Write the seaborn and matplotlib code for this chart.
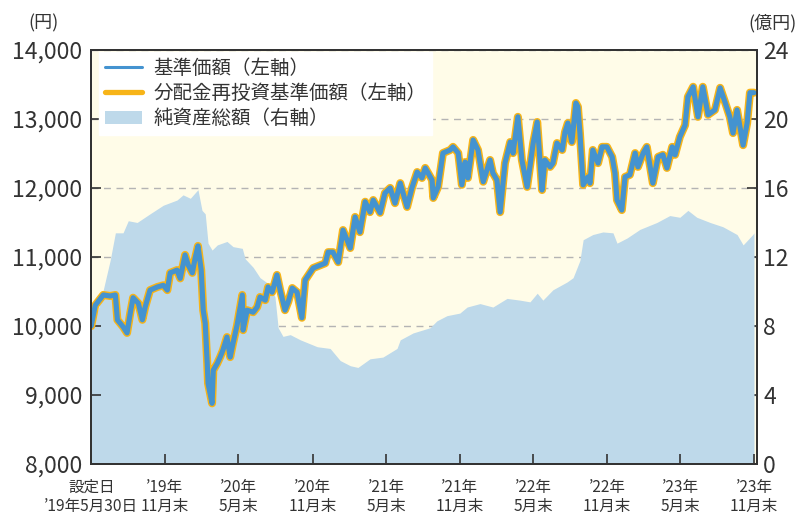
import pandas as pd
import matplotlib
matplotlib.use("Agg")
import matplotlib.pyplot as plt
from matplotlib.lines import Line2D
from matplotlib.patches import Patch
from matplotlib.ticker import FuncFormatter
import seaborn as sns

# ---------------- data ----------------
LAUNCH = "2019-05-30"

# days since launch / NAV (基準価額, yen)
nav_days = [0, 10, 30, 47, 60, 65, 79, 89, 97, 104,
            117, 127, 134, 146, 164, 179, 189, 196, 213, 221,
            233, 241, 251, 258, 265, 273, 278, 283, 288, 290,
            300, 303, 313, 320, 327, 337, 345, 352, 362, 375,
            377, 387, 402, 412, 419, 432, 439, 449, 461, 469,
            481, 489, 499, 511, 523, 531, 551, 568, 581, 588,
            600, 613, 625, 643, 655, 667, 680, 692, 700, 717,
            729, 742, 754, 767, 784, 796, 809, 821, 829, 846,
            849, 861, 873, 891, 898, 911, 920, 928, 935, 948,
            960, 973, 990, 997, 1007, 1015, 1027, 1040, 1047, 1059,
            1069, 1082, 1097, 1107, 1119, 1126, 1139, 1146, 1156, 1169,
            1176, 1183, 1193, 1203, 1208, 1213, 1221, 1233, 1238, 1245,
            1258, 1268, 1280, 1293, 1300, 1305, 1317, 1325, 1337, 1350,
            1357, 1370, 1379, 1394, 1407, 1419, 1429, 1442, 1449, 1461,
            1474, 1481, 1494, 1506, 1518, 1531, 1548, 1561, 1573, 1585,
            1593, 1603, 1618, 1628, 1635, 1645]
nav_values = [10000, 10300, 10450, 10435, 10450, 10090, 9990, 9900, 10190, 10410,
              10330, 10090, 10275, 10520, 10565, 10590, 10520, 10770, 10810, 10690,
              11030, 10880, 10770, 10985, 11160, 10810, 10230, 10040, 9460, 9170,
              8880, 9360, 9460, 9550, 9650, 9840, 9550, 9750, 10010, 10450,
              9940, 10230, 10200, 10275, 10420, 10375, 10565, 10490, 10740, 10520,
              10230, 10350, 10550, 10490, 10120, 10665, 10840, 10880, 10910, 11070,
              11070, 10925, 11390, 11130, 11580, 11360, 11800, 11650, 11825, 11640,
              11925, 12000, 11780, 12070, 11725, 12000, 12230, 12145, 12290, 12115,
              11855, 12015, 12505, 12550, 12595, 12505, 12045, 12375, 12145, 12695,
              12550, 12090, 12405, 12215, 12115, 11650, 12360, 12665, 12505, 13030,
              12405, 12015, 12650, 12955, 11970, 12405, 12305, 12360, 12650, 12550,
              12810, 12940, 12665, 13230, 13175, 12795, 12045, 12160, 12070, 12550,
              12360, 12595, 12595, 12450, 12215, 11825, 11680, 12160, 12190, 12505,
              12305, 12505, 12595, 12070, 12450, 12480, 12290, 12595, 12480, 12740,
              12910, 13320, 13465, 13030, 13465, 13060, 13130, 13450, 13245, 13030,
              12795, 13130, 12620, 12940, 13380, 13380]

# days since launch / net assets (純資産総額, 億円)
asset_days = [0, 22, 47, 60, 79, 92, 114, 146, 179, 213,
              228, 246, 265, 275, 283, 290, 300, 313, 337, 352,
              375, 382, 402, 419, 437, 456, 464, 476, 494, 519,
              561, 593, 618, 643, 662, 692, 724, 759, 767, 799,
              841, 858, 883, 915, 933, 965, 997, 1032, 1064, 1089,
              1107, 1121, 1146, 1181, 1196, 1213, 1221, 1245, 1270, 1295,
              1305, 1330, 1362, 1404, 1436, 1461, 1481, 1503, 1536, 1568,
              1603, 1618, 1642, 1645]
asset_values = [7.9, 9.3, 11.8, 13.4, 13.4, 14.1, 14.0, 14.5, 15.0, 15.3,
                15.6, 15.4, 15.9, 14.7, 14.5, 12.8, 12.4, 12.7, 12.9, 12.6,
                12.5, 11.9, 11.4, 10.8, 10.5, 9.7, 7.9, 7.4, 7.5, 7.2,
                6.8, 6.7, 6.0, 5.7, 5.6, 6.1, 6.2, 6.7, 7.2, 7.6,
                7.9, 8.3, 8.6, 8.75, 9.1, 9.3, 9.1, 9.6, 9.5, 9.4,
                9.9, 9.5, 10.1, 10.55, 10.8, 11.8, 13.0, 13.3, 13.45, 13.4,
                12.8, 13.1, 13.6, 14.0, 14.4, 14.3, 14.7, 14.3, 14.0, 13.75,
                13.3, 12.7, 13.3, 13.4]

tick_dates = ["2019-05-30", "2019-11-29", "2020-05-29", "2020-11-30", "2021-05-31",
              "2021-11-30", "2022-05-31", "2022-11-30", "2023-05-31", "2023-11-30"]
tick_labels = ["設定日\n’19年5月30日", "’19年\n11月末", "’20年\n5月末", "’20年\n11月末",
               "’21年\n5月末", "’21年\n11月末", "’22年\n5月末", "’22年\n11月末",
               "’23年\n5月末", "’23年\n11月末"]
left_ticks = [8000, 9000, 10000, 11000, 12000, 13000, 14000]
right_ticks = [0, 4, 8, 12, 16, 20, 24]
series_labels = ["基準価額（左軸）", "分配金再投資基準価額（左軸）", "純資産総額（右軸）"]
left_unit = "(円)"
right_unit = "(億円)"

# ---------------- styling ----------------
BLUE = "#4493d0"
ORANGE = "#f7b418"
AREA = "#bed9ea"
BG = "#fffce8"
DARK = "#333333"

sns.set_theme(style="white")
plt.rcParams["font.family"] = ["Noto Sans CJK JP", "DejaVu Sans"]

launch = pd.Timestamp(LAUNCH)
nav_df = pd.DataFrame({"date": launch + pd.to_timedelta(nav_days, unit="D"),
                       "nav": nav_values})
asset_df = pd.DataFrame({"date": launch + pd.to_timedelta(asset_days, unit="D"),
                         "assets": asset_values})

fig = plt.figure(figsize=(8, 5.25), dpi=100)
ax = fig.add_axes([0.114, 0.116, 0.832, 0.789])
ax2 = ax.twinx()

# right axis (behind): background, grid, area
ax2.patch.set_visible(True)
ax2.patch.set_facecolor(BG)
ax.set_zorder(ax2.get_zorder() + 1)
ax.patch.set_visible(False)

ax2.fill_between(asset_df["date"], asset_df["assets"], 0, color=AREA, lw=0, zorder=2)
ax2.set_ylim(0, 24)
ax2.set_yticks(right_ticks)
ax2.set_axisbelow(True)
ax2.yaxis.grid(True, color="#b4b4b4", linestyle=(0, (5, 4)), linewidth=1.0, zorder=0)
ax2.xaxis.grid(False)

# left axis: NAV lines (reinvested NAV drawn underneath as orange outline)
sns.lineplot(data=nav_df, x="date", y="nav", ax=ax, color=ORANGE, lw=5.8,
             solid_joinstyle="round", solid_capstyle="round", legend=False)
sns.lineplot(data=nav_df, x="date", y="nav", ax=ax, color=BLUE, lw=3.7,
             solid_joinstyle="round", solid_capstyle="round", legend=False)
ax.set_ylim(8000, 14000)
ax.set_yticks(left_ticks)
ax.yaxis.set_major_formatter(FuncFormatter(lambda v, p: f"{int(v):,}"))
ax.grid(False)
ax.set_xlabel("")
ax.set_ylabel("")
ax2.set_ylabel("")

ax.set_xlim(launch, launch + pd.Timedelta(days=1652))
ax.set_xticks(pd.to_datetime(tick_dates))
ax.set_xticklabels(tick_labels, fontsize=11.2, color=DARK, linespacing=1.15)

ax.tick_params(axis="y", direction="in", length=7, width=1.2, color=DARK,
               labelsize=16.5, labelcolor=DARK, pad=6.5, left=True)
ax.tick_params(axis="x", direction="in", length=7, width=1.2, color=DARK,
               pad=10.5, bottom=True)
ax2.tick_params(axis="y", direction="in", length=7, width=1.2, color=DARK,
                labelsize=16.5, labelcolor=DARK, pad=4.5, right=True)

for a in (ax, ax2):
    for s in a.spines.values():
        s.set_color(DARK)
        s.set_linewidth(1.4)
        s.set_visible(True)

# legend
handles = [Line2D([0], [0], color=BLUE, lw=2.2, solid_capstyle="round"),
           Line2D([0], [0], color=ORANGE, lw=3.8, solid_capstyle="round"),
           Patch(facecolor=AREA, edgecolor="none")]
leg = ax.legend(handles, series_labels, loc="upper left", bbox_to_anchor=(0.012, 0.995),
                fontsize=14, frameon=True, facecolor="white", edgecolor="white",
                framealpha=1.0, fancybox=False, borderpad=0.3, labelspacing=0.22,
                handlelength=1.9, handletextpad=0.6, borderaxespad=0.0)
for t in leg.get_texts():
    t.set_color(DARK)

# unit labels
fig.text(0.054, 0.955, left_unit, ha="center", va="center", fontsize=13, color=DARK)
fig.text(0.966, 0.955, right_unit, ha="center", va="center", fontsize=13, color=DARK)

fig.savefig("out.png", dpi=100)
